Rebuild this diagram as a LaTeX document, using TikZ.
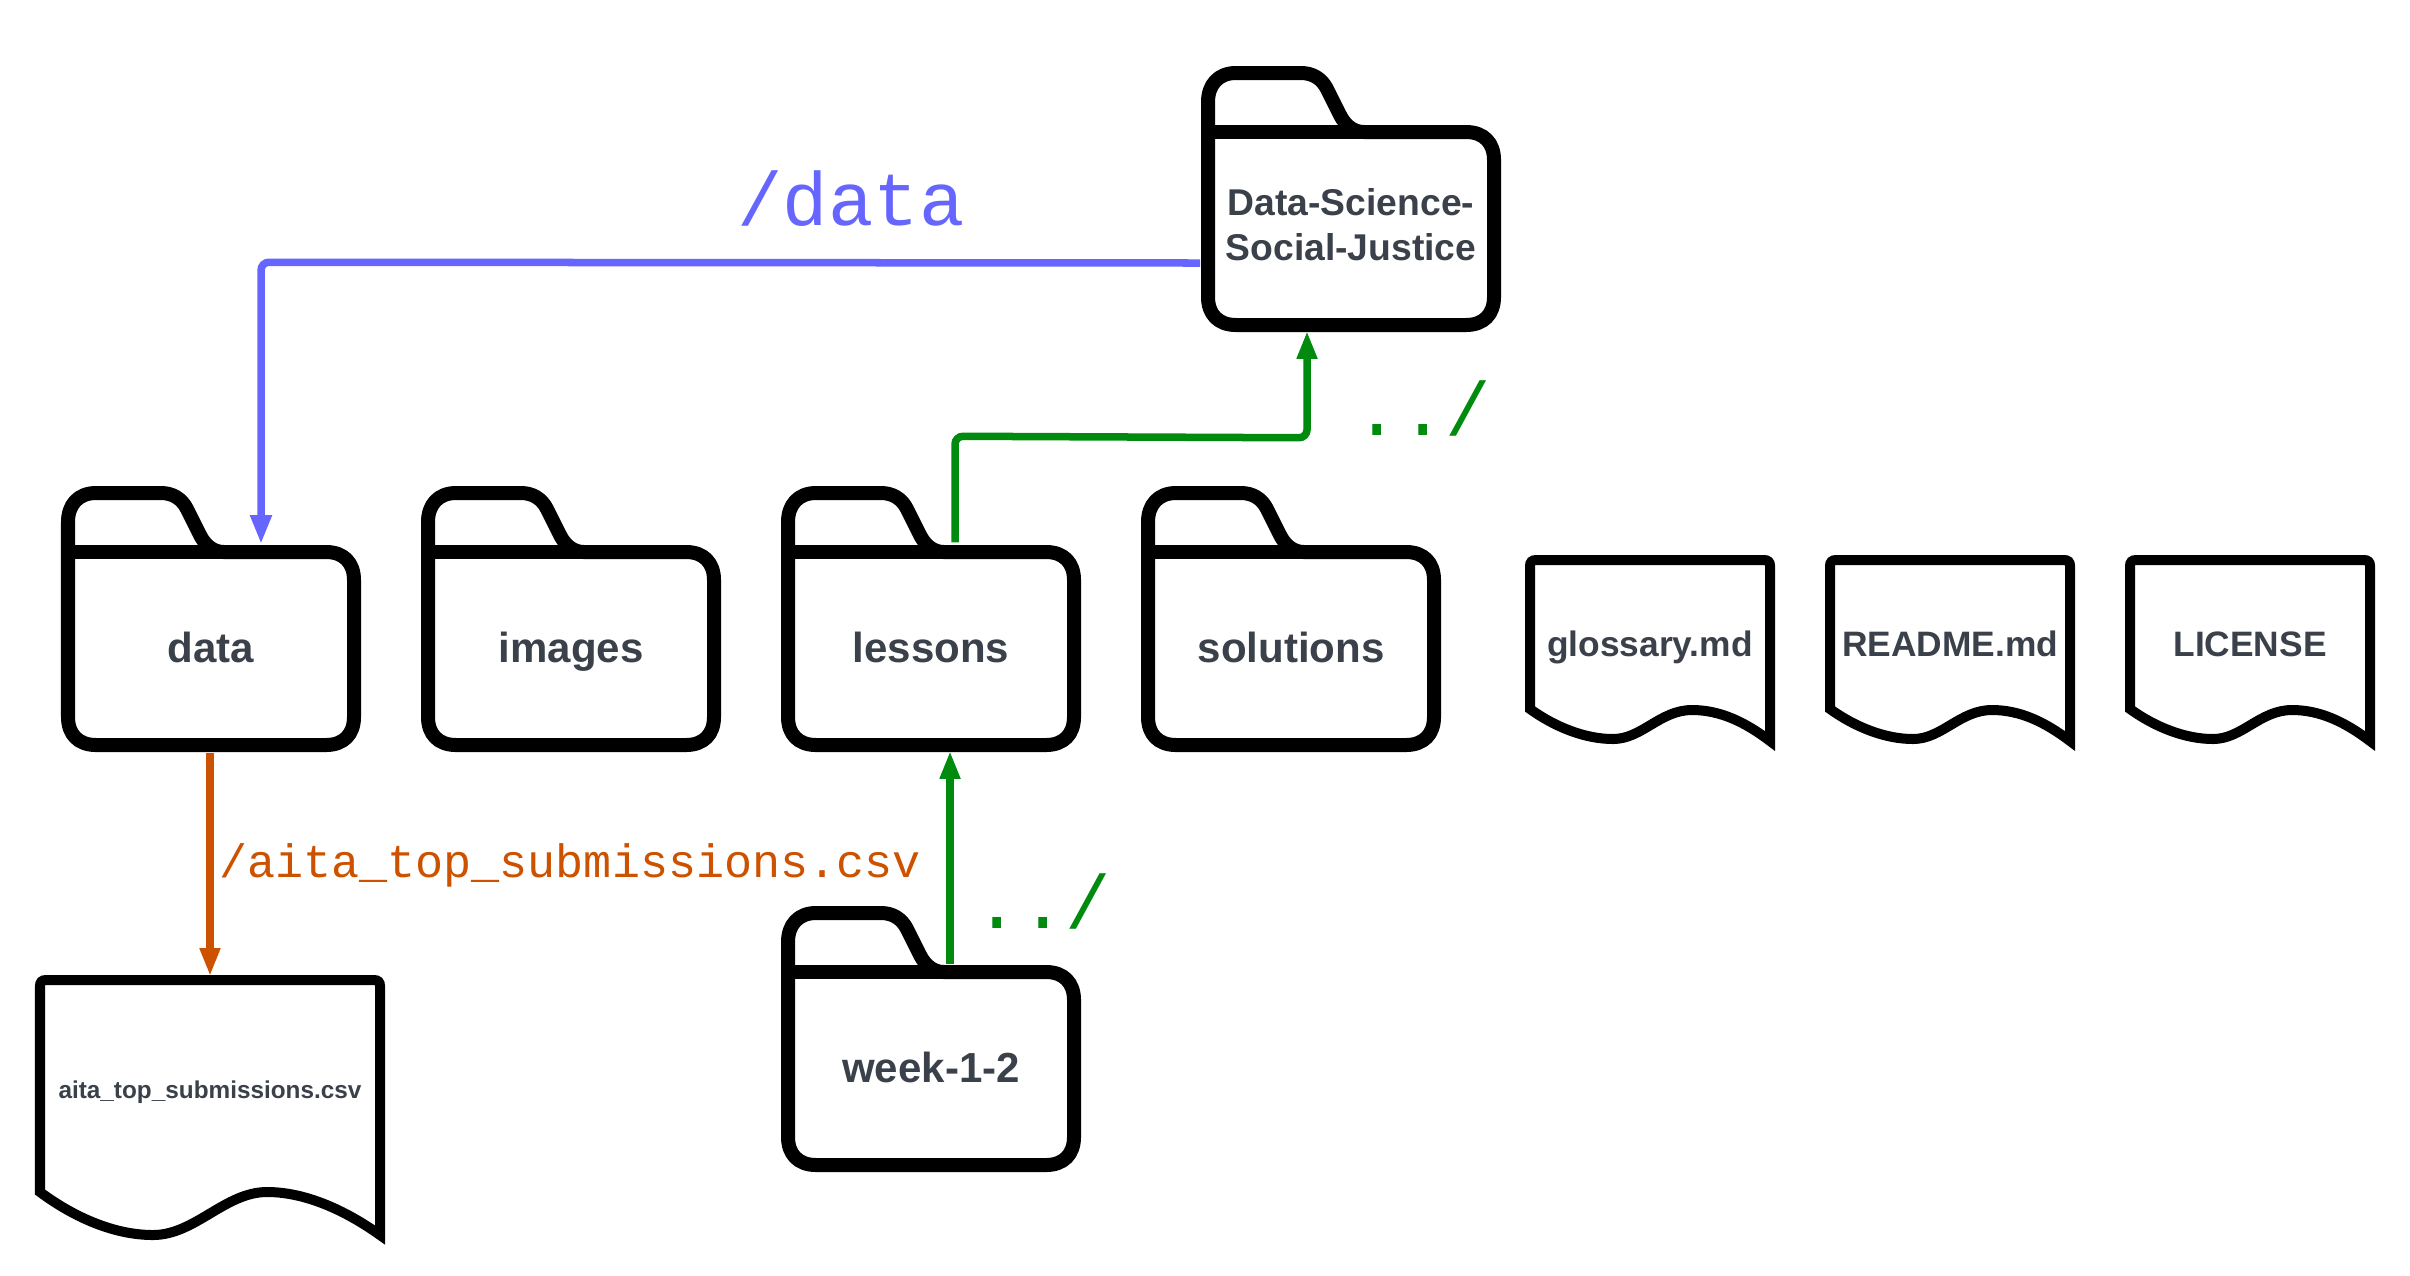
\documentclass[tikz,border=0pt]{standalone}
\usepackage{fontspec}
\setmainfont{Liberation Sans}
\setmonofont{Liberation Mono}
\usetikzlibrary{arrows.meta,calc}
\definecolor{inkgrey}{HTML}{3A414A}
\definecolor{bluelink}{HTML}{6666FF}
\definecolor{greenlink}{HTML}{008A0E}
\definecolor{orangelink}{HTML}{CC5200}
\tikzset{
  x=0.01cm,y=-0.01cm,
  folderline/.style={draw=black,line width=0.14cm,line join=round,fill=white},
  fileline/.style={draw=black,line width=0.10cm,line join=miter,miter limit=10,fill=white},
  foldertext/.style={inner sep=0pt,minimum width=3cm,minimum height=2.07cm,text=inkgrey,font=\bfseries\fontsize{11.95}{14}\selectfont,text height=0.27cm,text depth=0pt},
  filetext/.style={inner sep=0pt,minimum width=2.5cm,minimum height=1.94cm,text=inkgrey,font=\bfseries\fontsize{10.05}{12}\selectfont,text height=0.09cm,text depth=0pt},
  linkbase/.style={line width=0.075cm,rounded corners=0.08cm},
  bluearrow/.style={linkbase,draw=bluelink,-{Triangle[length=0.29cm,width=0.2cm]}},
  greenarrow/.style={linkbase,draw=greenlink,-{Triangle[length=0.28cm,width=0.19cm]}},
  orangearrow/.style={linkbase,draw=orangelink,-{Triangle[length=0.28cm,width=0.19cm]}},
  biglabel/.style={anchor=base,inner sep=0pt,font=\ttfamily\fontsize{21.5}{24}\selectfont},
  csvlabel/.style={anchor=base,inner sep=0pt,text=orangelink,font=\ttfamily\fontsize{13.3}{16}\selectfont},
}
% #1 node name, #2 x shift, #3 y shift, #4 node options, #5 text
\newcommand{\folderat}[5]{%
  \begin{scope}[shift={(#2,#3)}]
    \draw[folderline] (68,552) -- (68,522)
      .. controls (68,505) and (78,493) .. (96,493)
      -- (161,493)
      .. controls (173,493) and (182,499) .. (187,509)
      -- (200,535)
      .. controls (205,545) and (213,552) .. (224,552)
      -- (326,552)
      .. controls (344,552) and (354,563) .. (354,580)
      -- (354,717)
      .. controls (354,734) and (344,745) .. (326,745)
      -- (96,745)
      .. controls (78,745) and (68,734) .. (68,717)
      -- cycle;
    \draw[folderline,fill=none,line cap=butt] (68,552) -- (224,552);
    \node[foldertext,#4] (#1) at (211,648.5) {#5};
  \end{scope}}
% #1 node name, #2 x shift, #3 text
\newcommand{\fileat}[3]{%
  \begin{scope}[shift={(#2,0)}]
    \draw[fileline] (1530,709)
      .. controls (1555,727) and (1585,739) .. (1613,739)
      .. controls (1642,739) and (1660,710) .. (1692,710)
      .. controls (1720,710) and (1745,722) .. (1770,741)
      -- (1770,566) .. controls (1770,562) and (1768,560) .. (1764,560)
      -- (1536,560) .. controls (1532,560) and (1530,562) .. (1530,566)
      -- cycle;
    \node[filetext] (#1) at (1650,652) {#3};
  \end{scope}}
\begin{document}
\begin{tikzpicture}
\useasboundingbox (0,0) rectangle (2410,1275);
\folderat{dsj}{1140}{-420}{font=\bfseries\fontsize{10.6}{12.8}\selectfont,align=center,text height=0.64cm}{Data-Science-\\Social-Justice}
\folderat{data}{0}{0}{}{data}
\folderat{images}{360}{0}{}{images}
\folderat{lessons}{720}{0}{}{lessons}
\folderat{solutions}{1080}{0}{}{solutions}
\folderat{week}{720}{420}{}{week-1-2}
\fileat{glossary}{0}{glossary.md}
\fileat{readme}{300}{README.md}
\fileat{license}{600}{LICENSE}
\draw[fileline] (40,1192)
  .. controls (75,1218) and (115,1235) .. (153,1235)
  .. controls (195,1235) and (225,1192) .. (267,1192)
  .. controls (305,1192) and (345,1210) .. (380,1235)
  -- (380,986) .. controls (380,982) and (378,980) .. (374,980)
  -- (46,980) .. controls (42,980) and (40,982) .. (40,986)
  -- cycle;
\node[filetext,minimum width=3.5cm,minimum height=2.7cm,font=\bfseries\fontsize{6.92}{9}\selectfont,text height=0pt,text depth=0.24cm] (csv) at (210,1110) {aita\_top\_submissions.csv};
% connectors
\draw[bluearrow] ($(dsj.west)+(0,34.5)$) -- ($(data.north)+(50,-282)$) -- ($(data.north)+(50,0)$);
\draw[greenarrow] ($(lessons.north)+(24,-2)$) -- ($(lessons.north)+(24,-108)$) -- ($(dsj.south)+(-44,105)$) -- ($(dsj.south)+(-44,-2)$);
\draw[greenarrow] ($(week.north)+(19,0)$) -- ($(lessons.south)+(19,-2)$);
\draw[orangearrow] ($(data.south)+(-1,0)$) -- ($(csv.north)+(0,2)$);
% labels
\node[biglabel,text=bluelink] (lblData) at (851,225) {/data};
\node[biglabel,text=greenlink] (lblUpA) at (1423,435) {../};
\node[biglabel,text=greenlink] (lblUpB) at (1043,928) {../};
\node[csvlabel] (lblCsv) at (570,877) {/aita\_top\_submissions.csv};
\end{tikzpicture}
\end{document}
